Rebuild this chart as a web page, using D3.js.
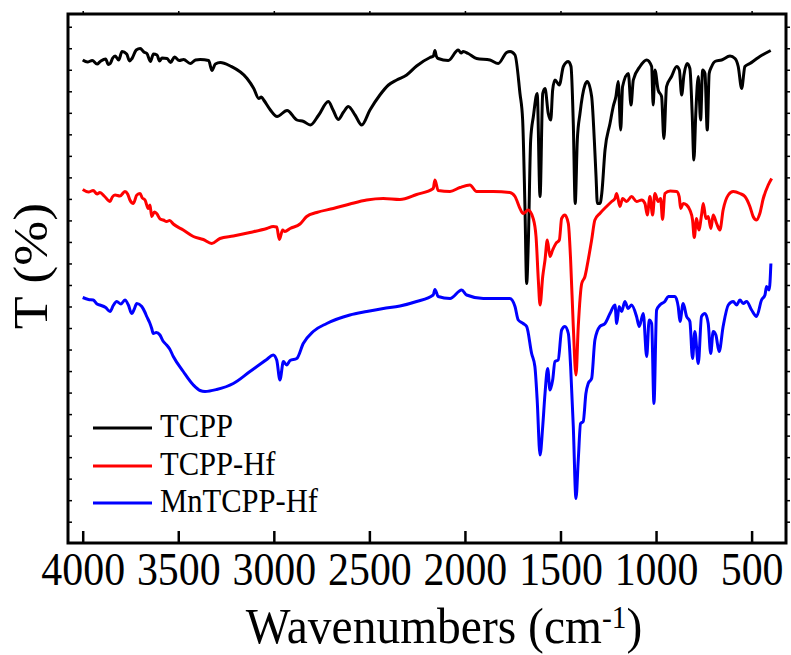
<!DOCTYPE html>
<html>
<head>
<meta charset="utf-8">
<script src="https://cdn.jsdelivr.net/npm/d3@7"></script>
<style>
  body { margin: 0; background: #fff; }
</style>
</head>
<body>
<div id="chart"></div>
<script>
// x tick labels (wavenumbers)
const xTicks = [4000, 3500, 3000, 2500, 2000, 1500, 1000, 500]

const seriesNames = ["TCPP", "TCPP-Hf", "MnTCPP-Hf"]
const seriesColors = ["#000000", "#ff0000", "#0000ff"]

// [wavenumber, T] (offset traces, arbitrary units)
const tcpp = [[4000,96.4],[3975,96.0],[3950,96.3],[3925,95.6],[3908,96.1],[3880,96.6],[3866,95.5],[3856,95.7],[3843,96.8],[3830,97.2],[3812,96.4],[3794,98.1],[3770,97.6],[3755,96.2],[3742,96.7],[3720,98.4],[3699,98.7],[3680,98.0],[3664,97.7],[3646,96.1],[3630,97.6],[3611,97.4],[3598,96.2],[3585,96.8],[3559,96.7],[3540,95.9],[3520,97.0],[3495,96.3],[3472,96.5],[3437,95.7],[3410,96.4],[3385,96.5],[3341,96.3],[3324,94.3],[3306,95.6],[3280,95.9],[3228,95.2],[3140,92.7],[3105,90.7],[3079,88.7],[3065,89.0],[3053,88.4],[3018,86.4],[2983,85.1],[2931,86.3],[2879,84.4],[2844,84.1],[2809,83.4],[2765,85.4],[2715,88.1],[2690,86.4],[2663,84.5],[2635,86.0],[2610,87.1],[2575,85.4],[2540,83.4],[2497,86.4],[2445,89.4],[2400,91.4],[2357,92.4],[2305,93.4],[2253,95.2],[2183,96.9],[2165,97.2],[2157,98.3],[2150,97.2],[2140,96.7],[2087,96.3],[2035,98.4],[2020,97.8],[2009,98.1],[1983,97.7],[1939,96.7],[1869,96.4],[1826,95.7],[1782,97.9],[1764,98.1],[1738,97.4],[1712,89.7],[1698,84.4],[1686,67.1],[1677,51.7],[1668,60.4],[1656,80.4],[1642,85.1],[1622,89.7],[1607,69.1],[1593,89.7],[1581,90.7],[1564,85.7],[1551,84.4],[1541,90.4],[1529,92.4],[1506,91.4],[1485,95.1],[1459,96.1],[1445,95.1],[1433,83.7],[1423,67.7],[1412,80.4],[1398,85.7],[1372,91.4],[1360,92.1],[1337,89.1],[1323,80.4],[1314,73.1],[1307,67.7],[1293,67.7],[1284,69.7],[1267,78.4],[1241,83.7],[1224,87.1],[1210,89.1],[1198,92.1],[1185,82.4],[1175,91.1],[1145,93.7],[1131,87.4],[1119,92.4],[1084,95.1],[1049,96.4],[1023,95.1],[1015,87.4],[1006,94.4],[989,90.4],[971,89.1],[959,80.7],[945,91.1],[919,93.1],[892,95.1],[878,94.4],[866,89.4],[854,93.4],[837,95.7],[823,94.7],[811,85.7],[802,76.4],[792,85.7],[779,93.1],[767,84.4],[756,94.4],[744,93.7],[732,82.4],[722,93.7],[709,95.1],[692,96.1],[657,96.4],[613,97.2],[587,96.7],[570,95.1],[552,90.7],[535,95.1],[509,95.7],[483,96.4],[457,97.1],[430,97.7],[400,98.3]]

const tcppHf = [[4000,70.5],[3970,70.0],[3945,70.3],[3925,69.6],[3910,69.9],[3885,69.1],[3857,68.1],[3845,69.0],[3831,69.4],[3805,69.2],[3779,70.1],[3765,69.6],[3753,68.4],[3735,67.7],[3717,69.4],[3700,69.7],[3688,68.8],[3674,68.4],[3657,66.7],[3648,67.4],[3639,65.1],[3625,66.0],[3613,65.7],[3595,64.6],[3578,64.4],[3561,64.1],[3545,64.3],[3526,63.6],[3474,62.4],[3421,61.1],[3369,60.5],[3325,59.7],[3282,60.7],[3212,61.2],[3125,61.9],[3037,62.7],[3003,63.1],[2985,63.0],[2971,60.5],[2954,62.4],[2942,62.1],[2915,62.7],[2863,63.6],[2828,65.1],[2776,65.9],[2689,66.7],[2602,67.6],[2514,68.4],[2427,68.7],[2340,68.5],[2253,69.5],[2166,70.7],[2157,72.4],[2140,70.3],[2078,70.1],[2026,70.9],[1974,71.4],[1939,70.1],[1852,70.1],[1765,69.9],[1738,69.1],[1712,66.7],[1695,65.7],[1669,66.4],[1643,64.7],[1628,61.1],[1616,52.4],[1607,47.4],[1593,53.1],[1581,56.4],[1569,60.4],[1555,57.1],[1541,58.4],[1524,59.7],[1506,60.4],[1494,64.7],[1477,65.4],[1459,63.7],[1447,56.4],[1433,43.1],[1419,33.4],[1407,43.1],[1389,51.7],[1372,53.1],[1355,56.4],[1337,60.4],[1320,64.4],[1294,65.7],[1259,67.1],[1232,68.1],[1215,68.7],[1206,69.7],[1189,67.1],[1175,68.7],[1154,68.1],[1128,69.1],[1102,68.1],[1075,68.4],[1058,67.7],[1046,65.4],[1032,69.1],[1018,65.4],[1006,69.7],[989,68.1],[976,68.7],[966,64.5],[954,69.7],[926,70.2],[892,70.1],[879,69.1],[871,66.7],[858,67.7],[840,67.4],[823,66.4],[809,64.4],[800,60.9],[788,64.7],[776,62.4],[762,65.4],[753,67.7],[739,64.7],[727,65.1],[713,62.7],[701,65.4],[683,63.7],[666,62.4],[649,66.4],[622,69.4],[596,70.1],[561,69.7],[535,69.1],[509,67.1],[492,65.1],[474,64.4],[457,65.7],[439,68.7],[413,71.4],[395,72.7]]

const mnTcppHf = [[4000,48.9],[3970,48.5],[3945,48.4],[3925,47.6],[3910,47.4],[3880,46.9],[3857,46.1],[3840,47.3],[3822,48.1],[3800,47.6],[3779,48.4],[3761,47.4],[3744,45.7],[3730,46.6],[3717,47.7],[3691,47.1],[3675,46.0],[3665,45.1],[3650,43.9],[3639,42.7],[3631,41.7],[3615,41.9],[3596,41.4],[3580,40.2],[3561,39.4],[3545,38.6],[3526,37.1],[3474,34.1],[3421,31.4],[3386,30.3],[3360,30.1],[3299,30.5],[3212,31.7],[3125,34.1],[3037,36.5],[3003,37.4],[2985,36.4],[2968,32.4],[2950,36.1],[2933,35.4],[2915,36.3],[2880,36.7],[2846,39.7],[2794,42.1],[2723,43.7],[2602,45.4],[2514,46.1],[2427,46.7],[2340,47.2],[2253,48.1],[2166,49.4],[2157,50.5],[2140,49.1],[2078,48.7],[2017,50.4],[1991,49.4],[1904,48.7],[1817,48.7],[1765,48.7],[1738,47.1],[1721,44.4],[1695,43.7],[1677,43.1],[1651,37.7],[1634,35.1],[1622,28.4],[1607,17.4],[1593,23.1],[1581,29.7],[1567,34.7],[1555,30.4],[1541,32.4],[1529,36.1],[1512,36.4],[1494,42.4],[1477,43.1],[1459,41.7],[1447,35.1],[1433,23.1],[1419,8.7],[1407,16.4],[1395,23.7],[1381,24.1],[1367,29.7],[1355,31.7],[1337,32.7],[1320,40.4],[1294,43.1],[1267,43.7],[1241,45.7],[1215,47.4],[1206,43.7],[1193,47.1],[1180,46.1],[1163,48.1],[1146,46.7],[1128,47.4],[1102,45.1],[1088,43.1],[1067,45.7],[1049,37.1],[1036,44.4],[1023,43.7],[1011,27.7],[997,46.4],[980,47.4],[954,48.1],[936,49.1],[901,49.1],[884,47.1],[875,44.1],[858,47.7],[840,45.1],[823,44.1],[809,36.7],[797,42.1],[779,35.7],[762,45.1],[744,45.7],[727,43.7],[714,37.7],[701,42.1],[687,41.4],[670,38.1],[649,43.1],[622,47.4],[596,48.1],[579,47.4],[561,48.4],[544,47.7],[526,48.1],[500,46.4],[474,45.1],[448,48.4],[430,49.4],[422,51.1],[408,50.4],[399,55.7]]

const allSeries = [tcpp, tcppHf, mnTcppHf]

// minor ticks on the unlabeled T axis
const yTicks = d3.range(24).map(k => 4.06 + 4.304 * k)

// generic serif resolves to a Times-like face here
const SERIF = "serif"

const WIDTH = 791, HEIGHT = 655
const PLOT = { LEFT: 68, RIGHT: 786, TOP: 14, BOTTOM: 543 }

const svg = d3.select("#chart")
    .append("svg")
    .attr("width", WIDTH)
    .attr("height", HEIGHT)

const x = d3.scaleLinear()
    .domain([4077, 320])
    .range([PLOT.LEFT, PLOT.RIGHT])

const y = d3.scaleLinear()
    .domain([-0.2, 105.6])
    .range([PLOT.BOTTOM, PLOT.TOP])

// bottom axis, ticks pointing inwards
const xAxis = svg.append("g")
    .attr("transform", "translate(0," + PLOT.BOTTOM + ")")
    .call(d3.axisBottom(x).tickValues(xTicks).tickSize(-12).tickFormat(d3.format("d")))
xAxis.attr("font-family", SERIF)
xAxis.select(".domain").remove()
xAxis.selectAll(".tick line").attr("stroke", "#000").attr("stroke-width", 2.5)
xAxis.selectAll(".tick text")
    .attr("y", 0).attr("dy", null)
    .attr("fill", "#000")
    .attr("font-family", SERIF)
    .attr("font-size", 46)
    .attr("transform", "translate(0,42) scale(0.91,1)")

// top axis, small marks only
const xTop = svg.append("g")
    .attr("transform", "translate(0," + PLOT.TOP + ")")
    .call(d3.axisTop(x).tickValues(xTicks).tickSize(3).tickFormat(""))
xTop.select(".domain").remove()
xTop.selectAll(".tick line").attr("stroke", "#000").attr("stroke-width", 1.5)

// left / right minor ticks
const yLeft = svg.append("g")
    .attr("transform", "translate(" + PLOT.LEFT + ",0)")
    .call(d3.axisLeft(y).tickValues(yTicks).tickSize(-4).tickFormat(""))
yLeft.select(".domain").remove()
yLeft.selectAll(".tick line").attr("stroke", "#000").attr("stroke-width", 1.5)

const yRight = svg.append("g")
    .attr("transform", "translate(" + PLOT.RIGHT + ",0)")
    .call(d3.axisRight(y).tickValues(yTicks).tickSize(4).tickFormat(""))
yRight.select(".domain").remove()
yRight.selectAll(".tick line").attr("stroke", "#000").attr("stroke-width", 1.5)

// spectra
const line = d3.line()
    .x(d => x(d[0]))
    .y(d => y(d[1]))
    .curve(d3.curveMonotoneX)

svg.selectAll("path.spectrum")
    .data(allSeries)
    .enter().append("path")
    .attr("class", "spectrum")
    .attr("d", line)
    .attr("fill", "none")
    .attr("stroke", (d, i) => seriesColors[i])
    .attr("stroke-width", 3)
    .attr("stroke-linejoin", "round")

// frame
svg.append("rect")
    .attr("x", PLOT.LEFT)
    .attr("y", PLOT.TOP)
    .attr("width", PLOT.RIGHT - PLOT.LEFT)
    .attr("height", PLOT.BOTTOM - PLOT.TOP)
    .attr("fill", "none")
    .attr("stroke", "#000")
    .attr("stroke-width", 3)

// legend
const legendY = [428, 466, 503]
const legend = svg.selectAll("g.legend")
    .data(seriesNames)
    .enter().append("g")
    .attr("class", "legend")
    .attr("transform", (d, i) => "translate(93," + legendY[i] + ")")
legend.append("line")
    .attr("x1", 0).attr("x2", 59)
    .attr("stroke", (d, i) => seriesColors[i])
    .attr("stroke-width", 3)
legend.append("text")
    .attr("transform", "translate(67,9) scale(0.9,1)")
    .attr("font-family", SERIF)
    .attr("font-size", 34)
    .text(d => d)

// axis titles
const xTitle = svg.append("text")
    .attr("transform", "translate(444,643) scale(0.95,1)")
    .attr("text-anchor", "middle")
    .attr("font-family", SERIF)
    .attr("font-size", 50)
xTitle.append("tspan").text("Wavenumbers (cm")
xTitle.append("tspan").attr("dy", -15).attr("font-size", 31).text("-1")
xTitle.append("tspan").attr("dy", 15).text(")")

svg.append("text")
    .attr("transform", "translate(47,266) scale(0.9,1) rotate(-90)")
    .attr("text-anchor", "middle")
    .attr("font-family", SERIF)
    .attr("font-size", 54)
    .text("T (%)")
</script>
</body>
</html>
